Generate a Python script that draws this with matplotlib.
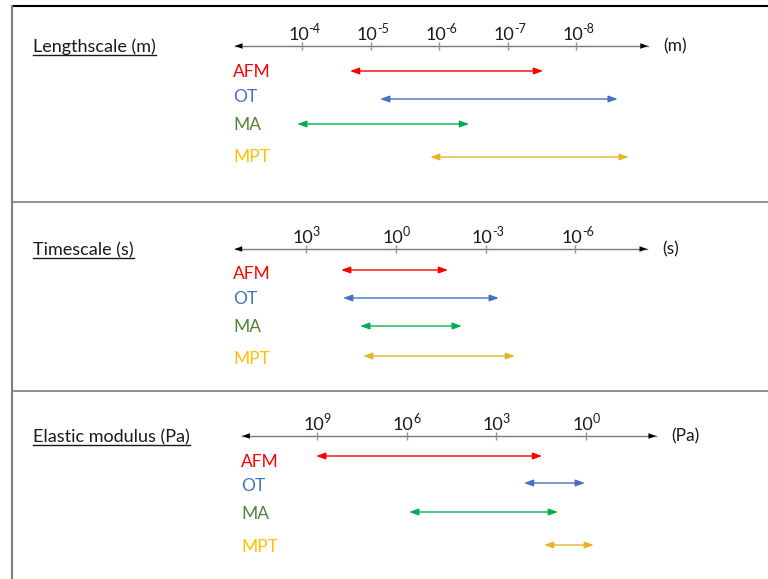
import matplotlib
matplotlib.use("Agg")
import matplotlib.pyplot as plt

# Fonts: Lato is the closest thing to Calibri here
plt.rcParams['font.family'] = ['Lato', 'DejaVu Sans']

# Data: ranges are log10 of the quantity (start, end) for each technique
methods = ["AFM", "OT", "MA", "MPT"]

length_ticks = [-4, -5, -6, -7, -8]
length_start = [-4.70, -5.14, -3.93, -5.87]
length_end = [-7.52, -8.61, -6.44, -8.77]
length_axis = [-3.02, -9.05]

time_ticks = [3, 0, -3, -6]
time_start = [1.84, 1.77, 1.20, 1.10]
time_end = [-1.74, -3.44, -2.20, -3.98]
time_axis = [5.4, -8.4]

modulus_ticks = [9, 6, 3, 0]
modulus_start = [9.03, 2.08, 5.92, 1.41]
modulus_end = [1.47, 0.04, 0.94, -0.26]
modulus_axis = [11.5, -2.34]

# Styles
label_colors = ["#FF0000", "#4472C4", "#548235", "#FFC000"]
arrow_colors = ["#FF0000", "#4472C4", "#00B050", "#E8B52A"]
TXT = "#1A1A1A"

W, H = 768, 579
fig = plt.figure(figsize=(W / 100, H / 100), dpi=100)

# base axes in pixel units for frame lines, titles and labels
base = fig.add_axes([0, 0, 1, 1])
base.set_xlim(0, W)
base.set_ylim(H, 0)
base.axis("off")

base.plot([12, W], [6, 6], color="black", lw=1.5)
base.plot([12, 12], [6, H], color="#7F7F7F", lw=1.5)
base.plot([12, W], [202, 202], color="#7F7F7F", lw=1.2)
base.plot([12, W], [391, 391], color="#7F7F7F", lw=1.2)

FS_TITLE = 13
FS_LAB = 12.5
FS_TICK = 13
FS_EXP = 9
PT = 0.72  # points per pixel at 100 dpi

# panel layout: (title, unit, ticks, starts, ends, axis span,
#                anchor tick, anchor px, px per decade, axis y, row ys, label x, label ys)
panels = [
    ("Lengthscale (m)", "(m)", length_ticks, length_start, length_end, length_axis,
     -4, 302, 68.5, 46, [71, 99, 124, 157], 233, [72, 97, 125, 157]),
    ("Timescale (s)", "(s)", time_ticks, time_start, time_end, time_axis,
     0, 396, 29.9, 249, [270, 298, 326, 356], 233, [274, 299, 327, 359]),
    ("Elastic modulus (Pa)", "(Pa)", modulus_ticks, modulus_start, modulus_end, modulus_axis,
     9, 317, 29.9, 436, [456, 483, 512, 545], 241, [462, 486, 514, 547]),
]

titles = []
for (title, unit, ticks, starts, ends, span,
     a_val, a_px, k, y_ax, rows, lab_x, lab_ys) in panels:
    ax = fig.add_axes([0, 0, 1, 1])
    ax.set_xlim(a_val + a_px / k, a_val - (W - a_px) / k)
    ax.set_ylim(H, 0)
    ax.axis("off")
    ax.patch.set_alpha(0)

    # main axis with arrows both ways
    ax.plot(span, [y_ax, y_ax], color="#7A7A7A", lw=1.0)
    ax.annotate("", xy=(span[1], y_ax), xytext=(span[0], y_ax),
                arrowprops=dict(arrowstyle="<|-|>,head_length=0.55,head_width=0.2",
                                color="black", lw=0, shrinkA=0, shrinkB=0))
    ax.vlines(ticks, y_ax - 4, y_ax + 4, color="#8497B0", lw=1.0)
    for t in ticks:
        ax.annotate("10", xy=(t, y_ax), xytext=(7 * PT, 6 * PT),
                    textcoords="offset points", ha="right", va="baseline",
                    fontsize=FS_TICK, color=TXT)
        ax.annotate(str(t), xy=(t, y_ax), xytext=(6.5 * PT, 13 * PT),
                    textcoords="offset points", ha="left", va="baseline",
                    fontsize=FS_EXP, color=TXT)
    ax.annotate(unit, xy=(span[1], y_ax), xytext=(15 * PT, 0), textcoords="offset points",
                va="center", ha="left", fontsize=FS_LAB, color=TXT)

    # technique ranges
    for i, m in enumerate(methods):
        ax.annotate("", xy=(ends[i], rows[i]), xytext=(starts[i], rows[i]),
                    arrowprops=dict(arrowstyle="<|-|>,head_length=0.55,head_width=0.2",
                                    color=arrow_colors[i], lw=1.0, shrinkA=0, shrinkB=0))
        base.text(lab_x, lab_ys[i], m, color=label_colors[i], fontsize=FS_LAB,
                  ha="left", va="center")

    titles.append(base.text(33, y_ax + 1, title, fontsize=FS_TITLE, ha="left",
                            va="center", color=TXT))

# underline the panel titles
fig.canvas.draw()
inv = base.transData.inverted()
for t in titles:
    bb = t.get_window_extent()
    x0, y0 = inv.transform((bb.x0, bb.y0))
    x1, _ = inv.transform((bb.x1, bb.y0))
    base.plot([x0, x1], [y0 - 0.5, y0 - 0.5], color=TXT, lw=1.0)

fig.savefig("out.png", dpi=100)
